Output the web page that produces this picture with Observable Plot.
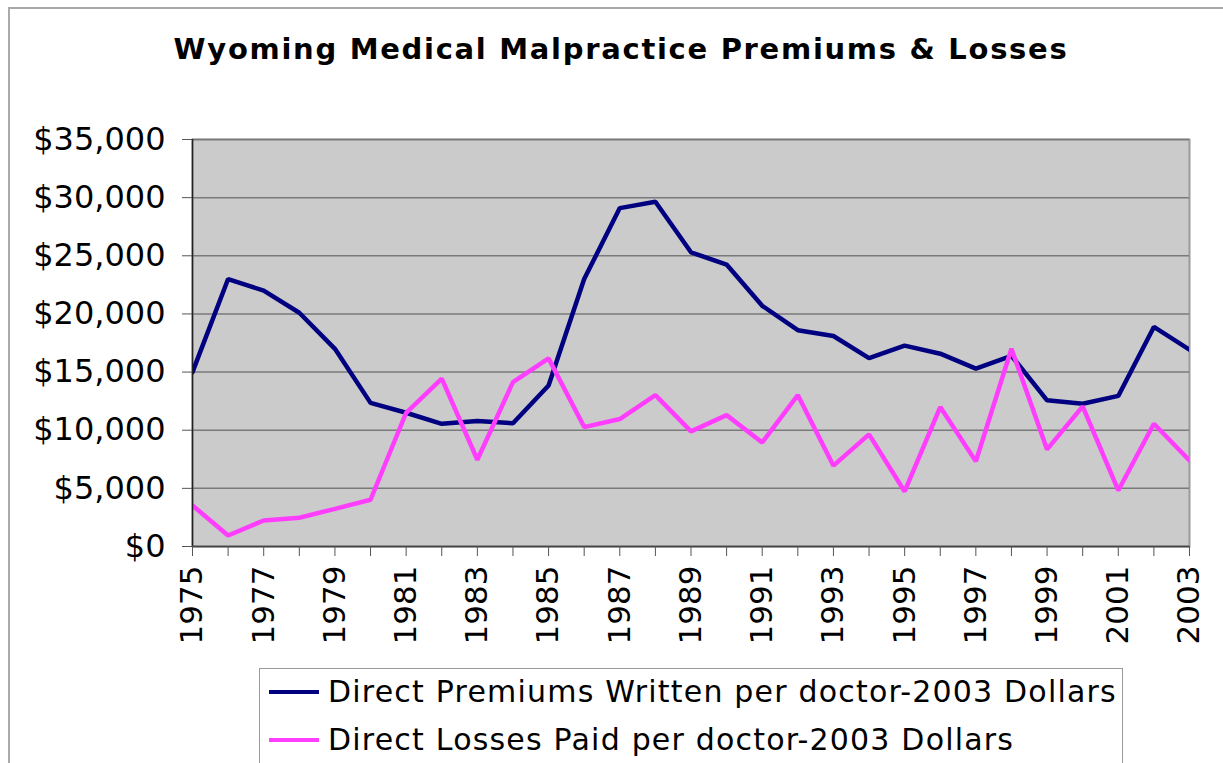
<!DOCTYPE html>
<html><head><meta charset="utf-8">
<script src="https://cdn.jsdelivr.net/npm/d3@7"></script>
<script src="https://cdn.jsdelivr.net/npm/@observablehq/plot@0.6"></script>
<style>
html,body{margin:0;padding:0;background:#fff;}
#wrap{position:relative;width:1223px;height:763px;overflow:hidden;font-family:"DejaVu Sans",Verdana,sans-serif;color:#000;}
#border{position:absolute;left:8px;top:7px;width:1300px;height:900px;border-left:2px solid #aaa;border-top:2px solid #aaa;}
#title{position:absolute;left:0;width:1242px;top:31px;text-align:center;font-weight:bold;font-size:29px;letter-spacing:1.7px;line-height:36px;white-space:nowrap;}
#chart{position:absolute;left:0;top:100px;}
#legend{position:absolute;left:259px;top:668px;width:862px;height:140px;border:1px solid #999;background:#fff;}
.row{position:absolute;left:9px;height:40px;font-size:30px;letter-spacing:1.2px;line-height:40px;white-space:nowrap;}
.sw{display:inline-block;width:50px;height:4px;vertical-align:middle;margin-right:9px;position:relative;top:-2px;}
</style></head>
<body>
<div id="wrap">
  <div id="border"></div>
  <div id="title"></div>
  <div id="chart"></div>
  <div id="legend"></div>
</div>
<script>
const title = "Wyoming Medical Malpractice Premiums & Losses";
const years = [1975,1976,1977,1978,1979,1980,1981,1982,1983,1984,1985,1986,1987,1988,1989,1990,1991,1992,1993,1994,1995,1996,1997,1998,1999,2000,2001,2002,2003];
const premiums = [15000,23000,22000,20100,17000,12350,11500,10550,10800,10600,13850,23000,29100,29650,25300,24250,20700,18600,18100,16200,17270,16580,15300,16400,12570,12280,12950,18880,16930];
const losses = [3530,950,2240,2470,3240,4020,11500,14430,7460,14140,16180,10270,10960,13020,9900,11300,8950,13020,6950,9640,4730,11990,7320,17010,8350,12050,4820,10560,7400];
const yTicks = [0,5000,10000,15000,20000,25000,30000,35000];
const seriesNames = ["Direct Premiums Written per doctor-2003 Dollars","Direct Losses Paid per doctor-2003 Dollars"];
const seriesColors = ["#000080","#ff3dff"];

const data = years.map((y,i)=>({year:y, premiums:premiums[i], losses:losses[i]}));

document.getElementById("title").textContent = title;

const chart = Plot.plot({
  width: 1223,
  height: 546,
  marginLeft: 192,
  marginRight: 34,
  marginTop: 39,
  marginBottom: 100,
  style: {fontFamily: "DejaVu Sans, Verdana, sans-serif", fontSize: "31px", color: "#000", background: "transparent", overflow: "visible"},
  x: {domain: [1975, 2003], label: null},
  y: {domain: [0, 35000], label: null},
  marks: [
    Plot.frame({fill: "#cbcbcb", stroke: "#9a9a9a", strokeWidth: 2}),
    Plot.gridY(yTicks, {stroke: "#7a7a7a", strokeOpacity: 1, strokeWidth: 1.5}),
    Plot.line(data, {x: "year", y: "premiums", stroke: seriesColors[0], strokeWidth: 4.5, strokeLinejoin: "miter", clip: "frame"}),
    Plot.line(data, {x: "year", y: "losses", stroke: seriesColors[1], strokeWidth: 4.5, strokeLinejoin: "miter", clip: "frame"}),
    Plot.ruleX([1975], {stroke: "#222", strokeWidth: 1.5}),
    Plot.ruleY([0], {stroke: "#444", strokeWidth: 1.5}),
    Plot.axisY(yTicks, {tickSize: 10, tickPadding: 17, tickFormat: d3.format("$,"), fontSize: 32, stroke: "#555", label: null}),
    Plot.axisX(years, {tickSize: 10, tickPadding: 9, tickRotate: -90, tickFormat: d => d % 2 === 1 ? String(d) : "", fontSize: 31, stroke: "#555", label: null})
  ]
});
document.getElementById("chart").appendChild(chart);

const legend = document.getElementById("legend");
seriesNames.forEach((name, i) => {
  const row = document.createElement("div");
  row.className = "row";
  row.style.top = (3 + i * 48) + "px";
  const sw = document.createElement("span");
  sw.className = "sw";
  sw.style.background = seriesColors[i];
  row.appendChild(sw);
  row.appendChild(document.createTextNode(name));
  legend.appendChild(row);
});
</script>
</body></html>
